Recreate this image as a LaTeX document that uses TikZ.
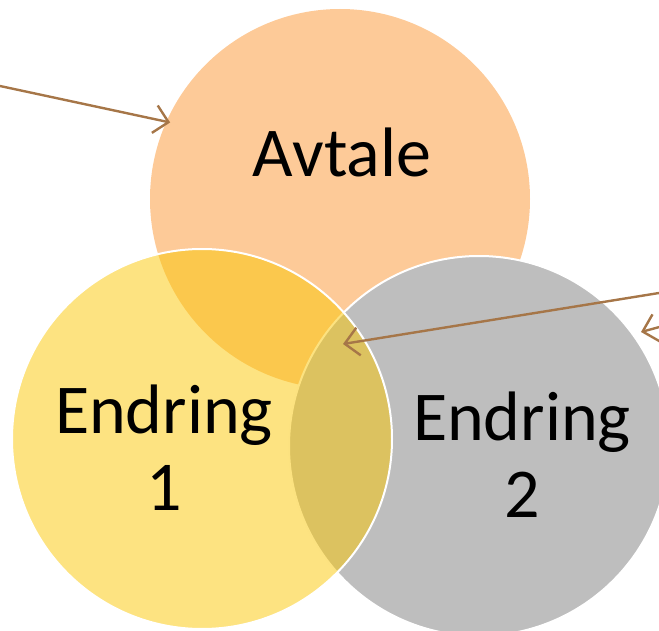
\documentclass[tikz,border=0pt]{standalone}
\usepackage{fontspec}
\setmainfont{Carlito}
\usetikzlibrary{arrows.meta, positioning}
\definecolor{avtaleorange}{RGB}{253,202,152}
\definecolor{endringgold}{RGB}{251,199,3}
\definecolor{endringgray}{RGB}{190,190,190}
\definecolor{pointerbrown}{RGB}{166,118,72}

\begin{document}
\begin{tikzpicture}[x=1pt, y=-1pt, >={Straight Barb[length=14pt,width=28pt]}]
    \tikzstyle{set} = [circle, minimum size=380pt, inner sep=0pt]
    \tikzstyle{setname} = [font=\fontsize{70}{77}\selectfont, align=center, anchor=base]
    \tikzstyle{pointer} = [->, draw=pointerbrown, line width=2.4pt]
    \useasboundingbox (0,0) rectangle (659,631);
    \clip (0,0) rectangle (659,631);
    % the three sets
    \node [set, fill=avtaleorange] at (340,199) (avtale) {};
    \node [set, fill=endringgray, draw=white, line width=2pt] at (479,446) (endring2) {};
    \node [set, fill=endringgold, fill opacity=0.5, draw=white, line width=2pt] at (202,439) (endring1) {};
    % names (base is the last line)
    \node [setname] at (342,177) (avtaletext) {Avtale};
    \node [setname] at (164,510) (endring1text) {Endring\\1};
    \node [setname] at (522,517) (endring2text) {Endring\\2};
    % pointers
    \coordinate (src1) at (0,86);
    \coordinate (src2) at (659,293);
    \coordinate (src3) at (700,316);
    \coordinate (middle) at (343,344);
    \coordinate (tip3) at (641,332);
    \draw [pointer, shorten >=-4pt] (src1) -- (avtale.156);
    \draw [pointer] (src2) -- (middle);
    \draw [pointer] (src3) -- (tip3);
\end{tikzpicture}
\end{document}
